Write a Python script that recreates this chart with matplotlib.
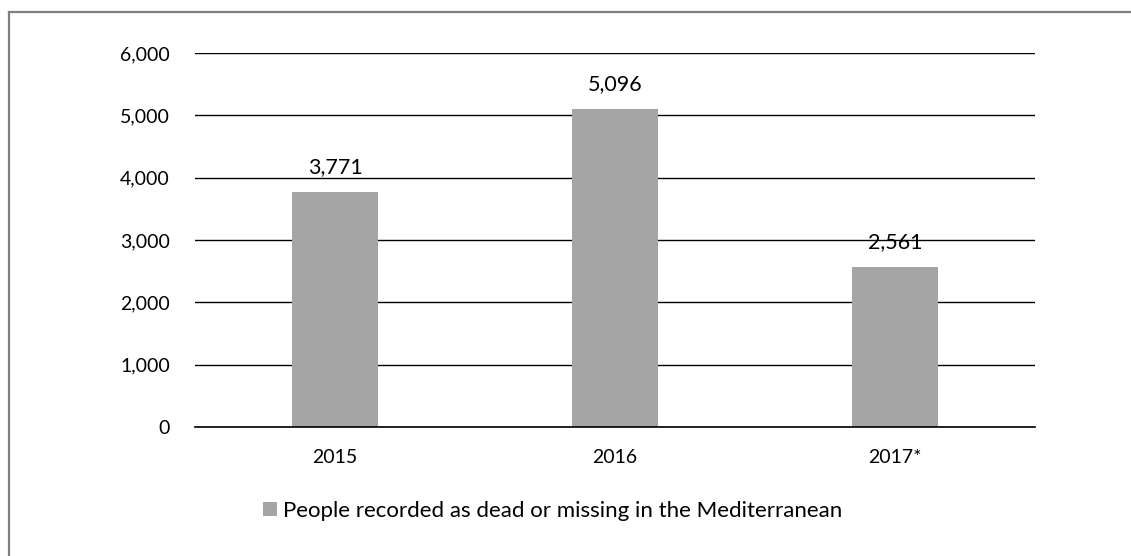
import matplotlib.pyplot as plt
from matplotlib.lines import Line2D

plt.rcParams['font.family'] = ['Lato', 'DejaVu Sans']

years = ['2015', '2016', '2017*']
deaths = [3771, 5096, 2561]
series_name = 'People recorded as dead or missing in the Mediterranean'

fig = plt.figure(figsize=(11.31, 5.56), dpi=100)
ax = fig.add_axes([195 / 1131, 1 - 427 / 556, 840 / 1131, 374 / 556])

# chart-area frame: only the top and left edges fall inside the picture
frame_col = '#7f7f7f'
fig.lines.append(Line2D([9 / 1131, 9 / 1131], [0, 1 - 12 / 556], transform=fig.transFigure,
                        color=frame_col, linewidth=1.6))
fig.lines.append(Line2D([9 / 1131, 1], [1 - 12 / 556, 1 - 12 / 556], transform=fig.transFigure,
                        color=frame_col, linewidth=1.6))

x = range(len(years))
bars = ax.bar(x, deaths, width=0.31, color='#a5a5a5', zorder=2, label=series_name)
for b, v in zip(bars, deaths):
    ax.annotate(f'{v:,}', (b.get_x() + b.get_width() / 2, v), xytext=(0, 11),
                textcoords='offset points', ha='center', va='bottom', fontsize=15.5)

ax.set_xlim(-0.5, 2.5)
ax.set_ylim(0, 6000)
ax.set_yticks(range(0, 6001, 1000))
ax.set_yticklabels([f'{t:,}' for t in range(0, 6001, 1000)])
ax.set_xticks(list(x))
ax.set_xticklabels(years)
ax.tick_params(length=0, labelsize=14)
ax.tick_params(axis='y', pad=18)
ax.tick_params(axis='x', pad=16)
ax.grid(axis='y', color='black', linewidth=1, zorder=0)
for s in ['top', 'right', 'left']:
    ax.spines[s].set_visible(False)
ax.spines['bottom'].set_color('black')
ax.spines['bottom'].set_linewidth(1.2)

fig.legend(loc='center left', bbox_to_anchor=(243 / 1131, 1 - 511 / 556),
           frameon=False, fontsize=16, handlelength=0.62, handleheight=0.62,
           handletextpad=0.3)

fig.savefig('out.png', dpi=100)
